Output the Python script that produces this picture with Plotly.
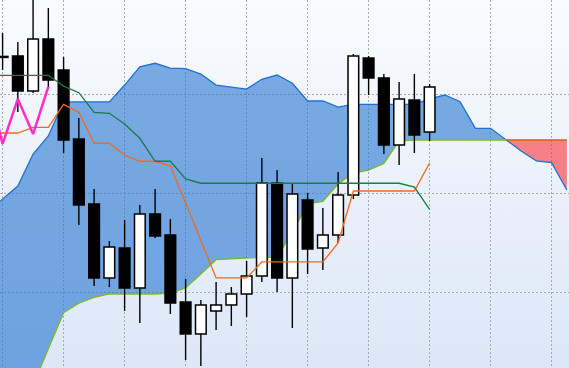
import base64
import plotly.graph_objects as go

# ---------------- data ----------------
candle_x = list(range(29))
opens  = [43.78, 43.82, 40.30, 45.53, 42.41, 35.48, 28.95, 21.51, 24.52, 20.50,
          27.94, 25.83, 19.10, 15.88, 18.19, 18.79, 19.90, 21.71, 31.06, 21.51,
          29.35, 24.52, 25.83, 29.85, 43.62, 41.61, 34.87, 39.40, 36.18]
highs  = [46.13, 45.23, 49.95, 48.64, 43.72, 37.59, 30.45, 25.23, 27.34, 28.84,
          30.45, 27.44, 21.41, 19.30, 21.11, 20.60, 23.22, 33.57, 32.36, 31.06,
          30.05, 28.54, 32.16, 44.02, 43.82, 42.01, 41.21, 42.01, 41.01]
lows   = [42.41, 38.19, 40.10, 40.60, 34.07, 26.83, 20.70, 20.60, 18.19, 16.99,
          25.53, 17.89, 13.27, 12.66, 16.28, 16.68, 17.59, 21.11, 20.10, 16.48,
          21.91, 22.31, 25.03, 29.45, 39.90, 33.97, 32.86, 34.07, 35.28]
closes = [43.68, 40.30, 45.53, 41.41, 35.38, 28.84, 21.51, 24.62, 20.50, 27.94,
          25.73, 19.00, 15.88, 18.79, 18.79, 19.90, 21.71, 31.06, 21.51, 29.95,
          24.42, 25.83, 29.85, 43.82, 41.61, 34.87, 39.50, 35.88, 40.70]

line_x = list(range(-1, 29))
tenkan = [36.08, 36.08, 36.08, 36.65, 36.65, 38.96, 38.16, 35.05, 35.05, 33.87,
          33.24, 33.24, 32.76, 29.05, 25.23, 21.51, 21.51, 21.51, 23.12, 23.12,
          23.12, 23.12, 23.12, 25.03, 30.25, 30.25, 30.25, 30.25, 30.25, 33.07]
kijun  = [41.88, 41.88, 41.88, 41.88, 41.88, 40.80, 40.13, 38.16, 38.06, 36.99,
          35.55, 33.24, 33.24, 31.46, 31.03, 31.03, 31.03, 31.03, 31.03, 31.03,
          31.03, 31.03, 31.03, 31.03, 31.03, 31.03, 31.03, 31.03, 30.65, 28.41]

chikou_x = [-1, 0, 1, 2, 3]
chikou   = [41.21, 34.98, 39.50, 35.98, 40.73]

cloud_x = list(range(-1, 38))
span_a = [28.14, 29.45, 30.75, 33.97, 35.78, 39.20, 39.20, 39.20, 39.20, 40.90,
          42.74, 43.09, 42.61, 42.56, 42.01, 40.90, 40.70, 40.50, 41.48, 41.91,
          41.08, 39.30, 39.30, 38.69, 38.96, 38.96, 38.96, 38.96, 38.96, 39.50,
          39.90, 39.23, 36.55, 36.55, 35.38, 34.27, 33.27, 33.10, 30.35]
span_b = [3.22, 5.23, 7.24, 10.75, 14.47, 18.02, 18.97, 19.57, 19.90, 19.90,
          19.90, 19.90, 20.00, 20.50, 21.91, 23.35, 23.42, 23.52, 23.59, 23.59,
          26.13, 28.95, 29.20, 30.96, 32.06, 32.36, 33.02, 35.28, 35.38, 35.38,
          35.38, 35.38, 35.38, 35.38, 35.38, 35.38, 35.38, 35.38, 35.38]
twist_at = 33  # where span A meets span B

X_RANGE = [-0.17, 37.14]
Y_RANGE = [12.46, 49.45]

# ---------------- figure ----------------
fig = go.Figure()

k = cloud_x.index(twist_at)
bx = cloud_x[:k + 1] + cloud_x[:k + 1][::-1]
by = span_a[:k + 1] + span_b[:k + 1][::-1]
rx = cloud_x[k:] + cloud_x[k:][::-1]
ry = span_a[k:] + span_b[k:][::-1]

# bottom subplot: cloud + its edges + wicks
fig.add_trace(go.Scatter(x=bx, y=by, fill="toself", mode="none",
                         fillcolor="rgba(37,117,208,0.60)", hoverinfo="skip"))
fig.add_trace(go.Scatter(x=rx, y=ry, fill="toself", mode="none",
                         fillcolor="rgba(250,51,55,0.60)", hoverinfo="skip"))
fig.add_trace(go.Scatter(x=cloud_x, y=span_a, mode="lines",
                         line=dict(color="#1F6FD6", width=1.3), hoverinfo="skip"))
fig.add_trace(go.Scatter(x=cloud_x[:k + 1], y=span_b[:k + 1], mode="lines",
                         line=dict(color="#7DBA22", width=1.3), hoverinfo="skip"))
fig.add_trace(go.Scatter(x=cloud_x[k:], y=span_b[k:], mode="lines",
                         line=dict(color="#D0621A", width=1.3), hoverinfo="skip"))

wx, wy = [], []
for i, h, l in zip(candle_x, highs, lows):
    wx += [i, i, None]
    wy += [l, h, None]
fig.add_trace(go.Scatter(x=wx, y=wy, mode="lines",
                         line=dict(color="black", width=1.4), hoverinfo="skip"))

# top (overlaying) subplot: candle bodies and indicator lines
bases = [min(o, c) for o, c in zip(opens, closes)]
heights = [abs(c - o) for o, c in zip(opens, closes)]
colors = ["white" if c > o else "black" for o, c in zip(opens, closes)]
fig.add_trace(go.Bar(x=candle_x, y=heights, base=bases, width=0.7,
                     marker=dict(color=colors, line=dict(color="black", width=1.5)),
                     hoverinfo="skip", xaxis="x2", yaxis="y2"))

fig.add_trace(go.Scatter(x=line_x, y=tenkan, mode="lines", xaxis="x2", yaxis="y2",
                         line=dict(color="#F06A20", width=1.3), hoverinfo="skip"))
fig.add_trace(go.Scatter(x=line_x, y=kijun, mode="lines", xaxis="x2", yaxis="y2",
                         line=dict(color="#1C7A4A", width=1.3), hoverinfo="skip"))
fig.add_trace(go.Scatter(x=chikou_x, y=chikou, mode="lines", xaxis="x2", yaxis="y2",
                         line=dict(color="#FF2EC8", width=2.5), hoverinfo="skip"))

# background gradient
svg = ('<svg xmlns="http://www.w3.org/2000/svg" width="100" height="100" '
       'preserveAspectRatio="none"><defs><linearGradient id="g" x1="0" y1="0" '
       'x2="0" y2="1"><stop offset="0" stop-color="#FAFBFE"/>'
       '<stop offset="1" stop-color="#DCE7F7"/></linearGradient></defs>'
       '<rect width="100" height="100" fill="url(#g)"/></svg>')
src = "data:image/svg+xml;base64," + base64.b64encode(svg.encode()).decode()

hidden = dict(showticklabels=False, zeroline=False, showline=False, ticks="")
fig.update_layout(
    width=569, height=368,
    margin=dict(l=0, r=0, t=0, b=0),
    paper_bgcolor="white",
    plot_bgcolor="rgba(0,0,0,0)",
    showlegend=False,
    barmode="overlay",
    hovermode=False,
    images=[dict(source=src, xref="paper", yref="paper", x=0, y=1,
                 sizex=1, sizey=1, sizing="stretch", layer="below",
                 xanchor="left", yanchor="top")],
    xaxis=dict(range=X_RANGE, tick0=0, dtick=4, showgrid=True,
               gridcolor="#A9A9A9", gridwidth=1, griddash="2px,2px", **hidden),
    yaxis=dict(range=Y_RANGE, tick0=0, dtick=10, showgrid=True,
               gridcolor="#A9A9A9", gridwidth=1, griddash="2px,2px", **hidden),
    xaxis2=dict(range=X_RANGE, overlaying="x", showgrid=False, **hidden),
    yaxis2=dict(range=Y_RANGE, overlaying="y", showgrid=False, **hidden),
)

fig.write_html("out.html", config=dict(displayModeBar=False))
